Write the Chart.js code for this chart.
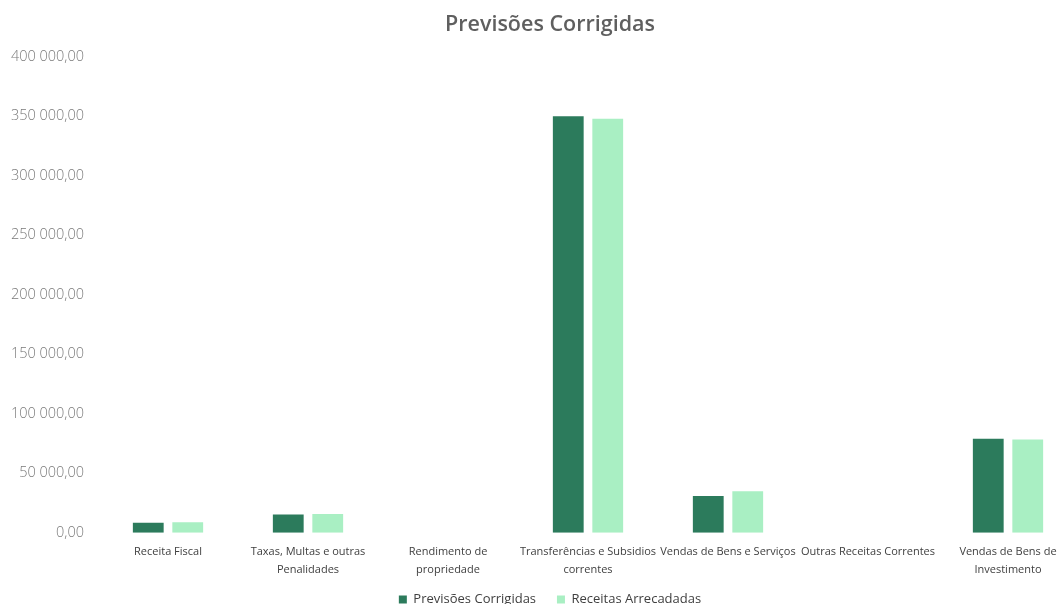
<!DOCTYPE html>
<html>
<head>
<meta charset="utf-8">
<script src="https://cdn.jsdelivr.net/npm/chart.js@4"></script>
<style>
  html, body { margin: 0; padding: 0; background: #ffffff; overflow: hidden; }
  #wrap { position: absolute; left: 0; top: 0; width: 1100px; height: 604px; }
</style>
</head>
<body>
<div id="wrap"><canvas id="c"></canvas></div>
<script>
const chartTitle = "Previsões Corrigidas";
const categories = [
  "Receita Fiscal",
  ["Taxas, Multas e outras", "Penalidades"],
  ["Rendimento de", "propriedade"],
  ["Transferências e Subsidios", "correntes"],
  "Vendas de Bens e Serviços",
  "Outras Receitas Correntes",
  ["Vendas de Bens de", "Investimento"]
];
const seriesNames = ["Previsões Corrigidas", "Receitas Arrecadadas"];
const previsoesCorrigidas = [8500, 15400, 0, 350000, 31000, 0, 79000];
const receitasArrecadadas = [8800, 15700, 0, 348000, 35000, 0, 78500];
const yMin = 0, yMax = 400000, yStep = 50000;

function fmt(v) {
  const parts = Math.abs(v).toFixed(2).split(".");
  const intPart = parts[0].replace(/\B(?=(\d{3})+(?!\d))/g, " ");
  return (v < 0 ? "-" : "") + intPart + "," + parts[1];
}

new Chart(document.getElementById("c"), {
  type: "bar",
  data: {
    labels: categories,
    datasets: [
      { label: seriesNames[0], data: previsoesCorrigidas, backgroundColor: "#2C7B5C" },
      { label: seriesNames[1], data: receitasArrecadadas, backgroundColor: "#A9EFC3" }
    ]
  },
  options: {
    responsive: true,
    maintainAspectRatio: false,
    animation: false,
    devicePixelRatio: 1,
    categoryPercentage: 0.564,
    barPercentage: 0.78,
    layout: { padding: { left: 0, right: 0, top: 0, bottom: -12 } },
    plugins: {
      title: {
        display: true,
        text: chartTitle,
        color: "#5f5f5f",
        font: { family: "Open Sans", size: 21.5, weight: "600" },
        padding: { top: 12, bottom: 19 }
      },
      legend: {
        position: "bottom",
        labels: {
          color: "#404040",
          font: { family: "Open Sans", size: 13 },
          boxWidth: 8,
          boxHeight: 8,
          padding: 4,
          generateLabels: function (chart) {
            const items = Chart.defaults.plugins.legend.labels.generateLabels(chart);
            items[0].text = items[0].text + "     ";
            return items;
          }
        }
      },
      tooltip: { enabled: false }
    },
    scales: {
      x: {
        grid: { display: false, drawTicks: false },
        border: { display: false },
        ticks: {
          color: "#404040",
          font: { family: "Open Sans", size: 11, lineHeight: 1.6 },
          padding: 10.5,
          maxRotation: 0,
          autoSkip: false
        }
      },
      y: {
        min: yMin,
        max: yMax,
        grid: { display: false, drawTicks: false },
        border: { display: false },
        afterFit: function (s) { s.width = 98; },
        ticks: {
          stepSize: yStep,
          color: "#7a7a7a",
          font: { family: "Open Sans", size: 14.5, weight: "300" },
          padding: 14,
          callback: function (v) { return fmt(v); }
        }
      },
      yRight: {
        position: "right",
        display: true,
        grid: { display: false, drawTicks: false },
        border: { display: false },
        ticks: { display: false },
        afterFit: function (s) { s.width = 22; }
      }
    }
  }
});
</script>
</body>
</html>
